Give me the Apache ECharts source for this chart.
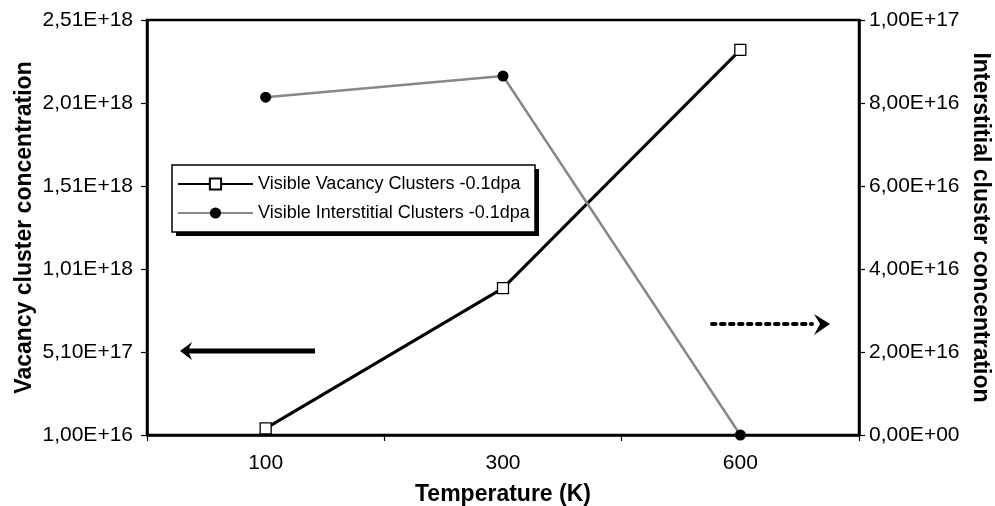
<!DOCTYPE html>
<html>
<head>
<meta charset="utf-8">
<script src="https://cdn.jsdelivr.net/npm/echarts@6/dist/echarts.min.js"></script>
<style>html,body{margin:0;padding:0;background:#fff}#c{width:995px;height:506px}</style>
</head>
<body>
<div id="c"></div>
<script>
const categories = ['100', '300', '600'];
const vacancy = [5.0e16, 8.95e17, 2.33e18];
const interstitial = [8.14e16, 8.65e16, 0];
const vacancyName = 'Visible Vacancy Clusters -0.1dpa';
const interstitialName = 'Visible Interstitial Clusters -0.1dpa';

function fmt(v) {
  let s = Number(v).toExponential(2);
  let [m, e] = s.split('e');
  let sign = e[0];
  let d = e.slice(1);
  if (d.length < 2) d = '0' + d;
  return m.replace('.', ',') + 'E' + sign + d;
}

const chart = echarts.init(document.getElementById('c'));
const FONT = 'Liberation Sans, Arial, sans-serif';
chart.setOption({
  animation: false,
  textStyle: { fontFamily: FONT },
  grid: { left: 147, right: 136, top: 20, bottom: 71, show: true, borderColor: '#000', borderWidth: 2.5,
          containLabel: false, outerBoundsMode: 'none' },
  legend: {
    left: 172, top: 165, orient: 'vertical',
    padding: [10, 8, 7, 5], itemGap: 11, itemWidth: 75, itemHeight: 14,
    borderWidth: 0, z: 10,
    textStyle: { fontSize: 18, color: '#000', fontFamily: FONT },
    data: [vacancyName, interstitialName]
  },
  xAxis: {
    type: 'category', data: categories, boundaryGap: true,
    name: 'Temperature (K)', nameLocation: 'middle', nameGap: 48,
    nameTextStyle: { fontSize: 23, fontWeight: 'bold', color: '#000' },
    axisLine: { lineStyle: { color: '#000', width: 2.5 } },
    axisTick: { show: true, length: 6, lineStyle: { color: '#000', width: 1.2 } },
    axisLabel: { fontSize: 21, color: '#000', margin: 18 },
    splitLine: { show: false }
  },
  yAxis: [
    {
      type: 'value', min: 1e16, max: 2.51e18, interval: 5e17,
      name: 'Vacancy cluster concentration', nameLocation: 'middle', nameGap: 111, nameRotate: 90,
      nameMoveOverlap: false,
      nameTextStyle: { fontSize: 23, fontWeight: 'bold', color: '#000' },
      axisLine: { show: true, lineStyle: { color: '#000', width: 2.5 } },
      axisTick: { show: true, length: 6, lineStyle: { color: '#000', width: 1.2 } },
      axisLabel: { fontSize: 21, color: '#000', margin: 14, formatter: fmt },
      splitLine: { show: false }
    },
    {
      type: 'value', min: 0, max: 1e17, interval: 2e16, position: 'right',
      name: 'Interstitial cluster concentration', nameLocation: 'middle', nameGap: 110, nameRotate: -90,
      nameMoveOverlap: false,
      nameTextStyle: { fontSize: 23, fontWeight: 'bold', color: '#000' },
      axisLine: { show: true, lineStyle: { color: '#000', width: 2.5 } },
      axisTick: { show: true, length: 6, lineStyle: { color: '#000', width: 1.2 } },
      axisLabel: { fontSize: 21, color: '#000', margin: 10, formatter: fmt },
      splitLine: { show: false }
    }
  ],
  series: [
    {
      name: vacancyName, type: 'line', yAxisIndex: 0, data: vacancy,
      symbol: 'rect', symbolSize: 11,
      lineStyle: { color: '#000', width: 3 },
      itemStyle: { color: '#fff', borderColor: '#000', borderWidth: 1.3 },
      z: 3
    },
    {
      name: interstitialName, type: 'line', yAxisIndex: 1, data: interstitial,
      symbol: 'circle', symbolSize: 11,
      lineStyle: { color: '#888', width: 2.5 },
      itemStyle: { color: '#000', borderColor: '#000', borderWidth: 0 },
      z: 4
    }
  ],
  graphic: [
    { type: 'rect', z: 5, shape: { x: 176, y: 169, width: 363, height: 67 }, style: { fill: '#000' } },
    { type: 'rect', z: 6, shape: { x: 172, y: 165, width: 363, height: 67 }, style: { fill: '#fff', stroke: '#000', lineWidth: 1.5 } },
    { type: 'line', shape: { x1: 315, y1: 351, x2: 188, y2: 351 }, style: { stroke: '#000', lineWidth: 5 } },
    { type: 'polygon', shape: { points: [[180, 351], [192, 342], [188, 351], [192, 360]] }, style: { fill: '#000' } },
    { type: 'line', shape: { x1: 712, y1: 324, x2: 812, y2: 324 }, style: { stroke: '#000', lineWidth: 4, lineDash: [3.5, 5.5], lineCap: 'round' } },
    { type: 'polygon', shape: { points: [[830, 324], [814, 314], [820, 324], [814, 335]] }, style: { fill: '#000' } }
  ]
});
</script>
</body>
</html>
